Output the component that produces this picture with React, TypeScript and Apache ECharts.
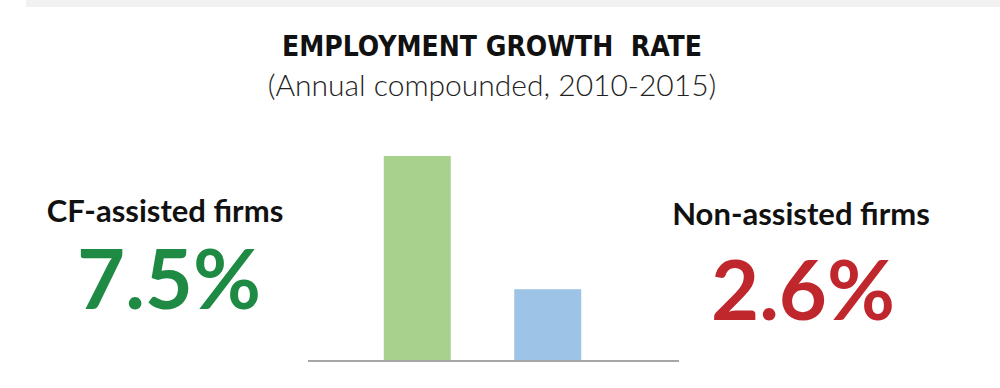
import React, { useEffect, useRef } from "react";
import * as echarts from "echarts";

const categories = ["CF-assisted firms", "Non-assisted firms"];
const growthValues = [7.5, 2.6];
const barColors = ["#a9d18e", "#9dc3e6"];
const valueColors = ["#1f8a43", "#c0272d"];
const titleText = "EMPLOYMENT GROWTH  RATE";
const subtitleText = "(Annual compounded, 2010-2015)";

export default function App() {
  const ref = useRef<HTMLDivElement>(null);
  useEffect(() => {
    if (!ref.current) return;
    const chart = echarts.init(ref.current, null, { renderer: "svg" });
    const labelFont = "Lato";
    chart.setOption({
      animation: false,
      backgroundColor: "#ffffff",
      title: {
        text: titleText,
        subtext: subtitleText,
        left: 487,
        textAlign: "center",
        top: 27,
        itemGap: 9,
        textStyle: {
          fontFamily: "'DejaVu Sans Condensed', 'Liberation Sans Narrow', 'Roboto Condensed', 'DejaVu Sans', sans-serif",
          fontWeight: "bold",
          fontSize: 28,
          color: "#111111",
        },
        subtextStyle: {
          fontFamily: "Lato",
          fontWeight: 300,
          fontSize: 30,
          color: "#222222",
        },
      },
      grid: { left: 352, right: 387, top: 156, bottom: 28 },
      xAxis: {
        type: "category",
        data: categories,
        axisLine: { show: false },
        axisTick: { show: false },
        axisLabel: { show: false },
      },
      yAxis: {
        type: "value",
        min: 0,
        max: 7.5,
        show: false,
        splitLine: { show: false },
      },
      series: [
        {
          type: "bar",
          barWidth: 67,
          data: growthValues.map((v, i) => ({
            value: v,
            itemStyle: { color: barColors[i] },
          })),
        },
      ],
      graphic: [
        {
          type: "rect",
          shape: { x: 26, y: 0, width: 974, height: 7 },
          style: { fill: "#f1f1f1" },
          silent: true,
        },
        {
          type: "line",
          shape: { x1: 308, y1: 361, x2: 679, y2: 361 },
          style: { stroke: "#a6a6a6", lineWidth: 2 },
          silent: true,
        },
        {
          type: "text",
          x: 165,
          y: 210,
          style: {
            text: categories[0],
            fontFamily: labelFont,
            fontWeight: "bold",
            fontSize: 31,
            lineHeight: 30,
            fill: "#111111",
            textAlign: "center",
            textVerticalAlign: "middle",
          },
        },
        {
          type: "text",
          x: 169,
          y: 277,
          style: {
            text: `${growthValues[0]}%`,
            fontFamily: labelFont,
            fontWeight: "bold",
            fontSize: 83,
            lineHeight: 60,
            fill: valueColors[0],
            textAlign: "center",
            textVerticalAlign: "middle",
          },
        },
        {
          type: "text",
          x: 801,
          y: 213,
          style: {
            text: categories[1],
            fontFamily: labelFont,
            fontWeight: "bold",
            fontSize: 31,
            lineHeight: 30,
            fill: "#111111",
            textAlign: "center",
            textVerticalAlign: "middle",
          },
        },
        {
          type: "text",
          x: 803,
          y: 288,
          style: {
            text: `${growthValues[1]}%`,
            fontFamily: labelFont,
            fontWeight: "bold",
            fontSize: 83,
            lineHeight: 60,
            fill: valueColors[1],
            textAlign: "center",
            textVerticalAlign: "middle",
          },
        },
      ],
    });
    return () => chart.dispose();
  }, []);
  return (
    <div
      ref={ref}
      style={{ position: "fixed", left: 0, top: 0, width: 1000, height: 388 }}
    />
  );
}
